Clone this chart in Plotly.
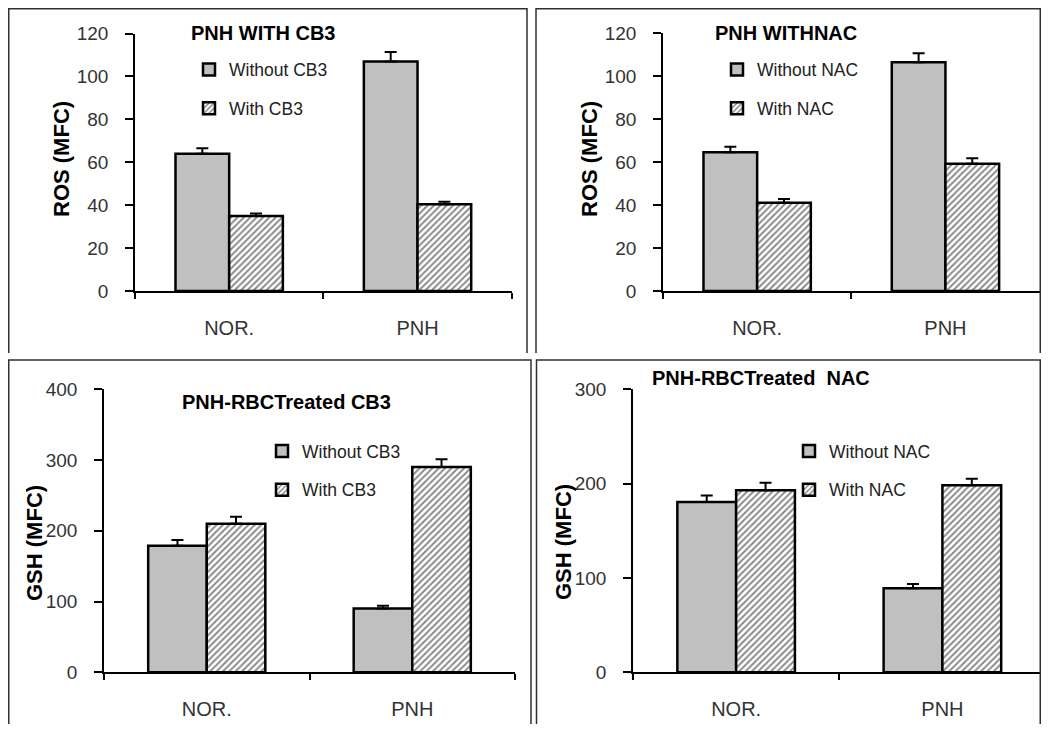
import plotly.graph_objects as go

# The page has an 8px body margin; the figure is sized to fill the 1049x732 window exactly.
FW, FH = 1033, 716
OX, OY = 8, 8

categories = ["NOR.", "PNH"]

# Panel 1: ROS with CB3
p1_title = "PNH WITH CB3"
p1_names = ["Without CB3", "With CB3"]
p1_without = [64.0, 106.9]
p1_without_err = [2.5, 4.5]
p1_with = [35.0, 40.4]
p1_with_err = [1.1, 1.2]

# Panel 2: ROS with NAC
p2_title = "PNH WITHNAC"
p2_names = ["Without NAC", "With NAC"]
p2_without = [64.6, 106.5]
p2_without_err = [2.6, 4.2]
p2_with = [41.1, 59.2]
p2_with_err = [1.7, 2.6]

# Panel 3: GSH with CB3
p3_title = "PNH-RBCTreated CB3"
p3_names = ["Without CB3", "With CB3"]
p3_without = [179, 90]
p3_without_err = [8, 4]
p3_with = [210, 290]
p3_with_err = [10, 11]

# Panel 4: GSH with NAC
p4_title = "PNH-RBCTreated  NAC"
p4_names = ["Without NAC", "With NAC"]
p4_without = [180.5, 89]
p4_without_err = [7, 4.5]
p4_with = [193, 198.2]
p4_with_err = [8, 7]

FONT = "Liberation Sans, Arial, sans-serif"


def fx(p):
    """page x pixel -> paper fraction"""
    return (p - OX) / FW


def fy(p):
    """page y pixel -> paper fraction"""
    return 1 - (p - OY) / FH


panels = [
    dict(title=p1_title, names=p1_names, a=p1_without, ae=p1_without_err, b=p1_with, be=p1_with_err,
         xd=(135, 511.7), xr=(-0.5, 1.5), yd=(291, 33.5), yr=(0, 120), dt=20, ytitle="ROS (MFC)",
         title_pos=(263, 33), ytitle_pos=(61, 159), legend_pos=(189, 51.5), xstand=18),
    dict(title=p2_title, names=p2_names, a=p2_without, ae=p2_without_err, b=p2_with, be=p2_with_err,
         xd=(663, 1039.6), xr=(-0.5, 1.5), yd=(291, 33.3), yr=(0, 120), dt=20, ytitle="ROS (MFC)",
         title_pos=(786, 33), ytitle_pos=(589, 159), legend_pos=(717, 51.5), xstand=18),
    dict(title=p3_title, names=p3_names, a=p3_without, ae=p3_without_err, b=p3_with, be=p3_with_err,
         xd=(104, 515), xr=(-0.5, 1.5), yd=(672.3, 389.3), yr=(0, 400), dt=100, ytitle="GSH (MFC)",
         title_pos=(286, 402), ytitle_pos=(34, 543), legend_pos=(262, 433), xstand=18),
    dict(title=p4_title, names=p4_names, a=p4_without, ae=p4_without_err, b=p4_with, be=p4_with_err,
         xd=(633, 1041), xr=(-0.5, 1.478), yd=(672.3, 389.3), yr=(0, 300), dt=100, ytitle="GSH (MFC)",
         title_pos=(761, 378), ytitle_pos=(563, 542), legend_pos=(789, 433), xstand=18),
]

fig = go.Figure()
annotations = []
layout_extra = {}

for i, p in enumerate(panels, start=1):
    sfx = "" if i == 1 else str(i)
    xa, ya = "x" + sfx, "y" + sfx
    leg = "legend" + sfx
    fig.add_trace(go.Bar(
        x=categories, y=p["a"], name=p["names"][0], xaxis=xa, yaxis=ya,
        marker=dict(color="#C0C0C0", line=dict(color="black", width=2.5)),
        error_y=dict(type="data", array=p["ae"], arrayminus=[0, 0], symmetric=False,
                     color="black", thickness=2, width=6),
        legend=leg, legendgroup=f"a{i}",
    ))
    fig.add_trace(go.Bar(
        x=categories, y=p["b"], name=p["names"][1], xaxis=xa, yaxis=ya,
        marker=dict(color="white", line=dict(color="black", width=2.5),
                    pattern=dict(shape="/", fgcolor="#111111", bgcolor="white", size=4.5, solidity=0.42)),
        error_y=dict(type="data", array=p["be"], arrayminus=[0, 0], symmetric=False,
                     color="black", thickness=2, width=6),
        legend=leg, legendgroup=f"b{i}",
    ))
    layout_extra["xaxis" + sfx] = dict(
        domain=[fx(p["xd"][0]), fx(p["xd"][1])], anchor=ya, range=list(p["xr"]),
        showline=True, linecolor="black", linewidth=1.5, ticks="outside", tickson="boundaries",
        ticklen=6, tickcolor="black", tickwidth=1.5, showgrid=False, zeroline=False,
        tickfont=dict(family=FONT, size=20, color="#333333"), ticklabelstandoff=p["xstand"],
        fixedrange=True, automargin=False,
    )
    layout_extra["yaxis" + sfx] = dict(
        domain=[fy(p["yd"][0]), fy(p["yd"][1])], anchor=xa, range=list(p["yr"]),
        dtick=p["dt"], tick0=0, showline=True, linecolor="black", linewidth=1.5,
        ticks="outside", ticklen=8, tickcolor="black", tickwidth=1.5, showgrid=False,
        zeroline=False, tickfont=dict(family=FONT, size=19, color="#333333"),
        ticklabelstandoff=13, fixedrange=True, automargin=False,
    )
    layout_extra[leg] = dict(
        x=fx(p["legend_pos"][0]), y=fy(p["legend_pos"][1]), xanchor="left", yanchor="top",
        bgcolor="rgba(0,0,0,0)", font=dict(family=FONT, size=17.5, color="#222222"),
        tracegroupgap=13, itemwidth=30,
    )
    annotations.append(dict(
        text=f"<b>{p['title']}</b>", x=fx(p["title_pos"][0]), y=fy(p["title_pos"][1]),
        xref="paper", yref="paper", xanchor="center", yanchor="middle", showarrow=False,
        font=dict(family=FONT, size=20, color="black"),
    ))
    annotations.append(dict(
        text=f"<b>{p['ytitle']}</b>", x=fx(p["ytitle_pos"][0]), y=fy(p["ytitle_pos"][1]),
        xref="paper", yref="paper", xanchor="center", yanchor="middle", showarrow=False,
        textangle=-90, font=dict(family=FONT, size=22, color="black"),
    ))

# panel frames (open at the bottom), page pixel coordinates
frames = [(8.75, 8.75, 527, 353), (536, 8.75, 1040.25, 353),
          (8.75, 360, 531, 740), (536.5, 360, 1040.25, 740)]
shapes = []
for (x0, y0, x1, y1) in frames:
    path = (f"M {fx(x0)},{fy(y1)} L {fx(x0)},{fy(y0)} L {fx(x1)},{fy(y0)} L {fx(x1)},{fy(y1)}")
    shapes.append(dict(type="path", xref="paper", yref="paper", path=path,
                       line=dict(color="#303030", width=1.5)))

fig.update_layout(
    width=FW, height=FH, margin=dict(l=0, r=0, t=0, b=0, autoexpand=False),
    paper_bgcolor="white", plot_bgcolor="white",
    barmode="group", bargap=0.43, bargroupgap=0,
    annotations=annotations, shapes=shapes, showlegend=True,
    **layout_extra,
)

fig.write_html("out.html")
